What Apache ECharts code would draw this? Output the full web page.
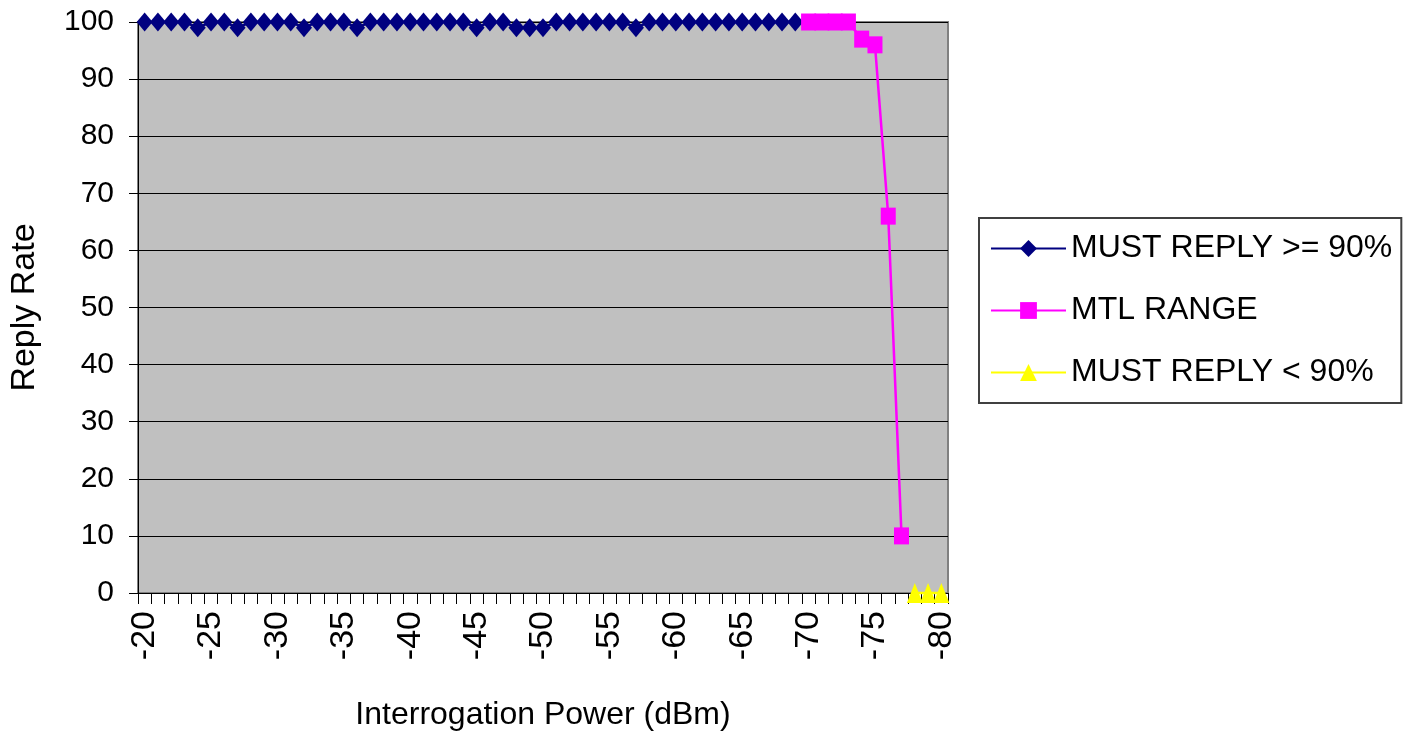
<!DOCTYPE html>
<html>
<head>
<meta charset="utf-8">
<script src="https://cdn.jsdelivr.net/npm/echarts@6/dist/echarts.min.js"></script>
<style>
  html, body { margin: 0; padding: 0; background: #ffffff; }
  #chart { width: 1403px; height: 736px; }
</style>
</head>
<body>
<div id="chart"></div>
<script>
// Interrogation power steps, from -20 dBm down to -80 dBm
const powerLevels = [
  '-20','-21','-22','-23','-24','-25','-26','-27','-28','-29',
  '-30','-31','-32','-33','-34','-35','-36','-37','-38','-39',
  '-40','-41','-42','-43','-44','-45','-46','-47','-48','-49',
  '-50','-51','-52','-53','-54','-55','-56','-57','-58','-59',
  '-60','-61','-62','-63','-64','-65','-66','-67','-68','-69',
  '-70','-71','-72','-73','-74','-75','-76','-77','-78','-79',
  '-80'
];

// Reply rate (%) where the transponder must reply at least 90 %
const mustReplyHigh = [
  100,100,100,100, 99,100,100, 99,100,100,
  100,100, 99,100,100,100, 99,100,100,100,
  100,100,100,100,100, 99,100,100, 99, 99,
   99,100,100,100,100,100,100, 99,100,100,
  100,100,100,100,100,100,100,100,100,100,
  null,null,null,null,null,null,null,null,null,null,
  null
];

// Reply rate (%) across the minimum triggering level range
const mtlRange = [
  null,null,null,null,null,null,null,null,null,null,
  null,null,null,null,null,null,null,null,null,null,
  null,null,null,null,null,null,null,null,null,null,
  null,null,null,null,null,null,null,null,null,null,
  null,null,null,null,null,null,null,null,null,null,
  100,100,100,100, 97, 96, 66, 10,null,null,
  null
];

// Reply rate (%) where replies below 90 % are allowed
const mustReplyLow = [
  null,null,null,null,null,null,null,null,null,null,
  null,null,null,null,null,null,null,null,null,null,
  null,null,null,null,null,null,null,null,null,null,
  null,null,null,null,null,null,null,null,null,null,
  null,null,null,null,null,null,null,null,null,null,
  null,null,null,null,null,null,null,null,  0,  0,
    0
];

const yTicks = { min: 0, max: 100, interval: 10 };

const FONT = '"Liberation Sans", Arial, sans-serif';

const chart = echarts.init(document.getElementById('chart'), null, { renderer: 'canvas' });

chart.setOption({
  animation: false,
  backgroundColor: '#ffffff',
  textStyle: { fontFamily: FONT, color: '#000' },
  grid: {
    left: 137, right: 455, top: 22, bottom: 142,
    show: true,
    backgroundColor: '#c0c0c0',
    borderColor: '#808080',
    borderWidth: 2
  },
  legend: {
    orient: 'vertical',
    left: 979, top: 218,
    padding: [13, 9, 13, 11],
    backgroundColor: '#ffffff',
    borderColor: '#404040',
    borderWidth: 2,
    borderRadius: 0,
    itemWidth: 75,
    itemHeight: 21,
    itemGap: 27,
    textStyle: { fontFamily: FONT, fontSize: 32, color: '#000', lineHeight: 35 },
    data: ['MUST REPLY >= 90%', 'MTL RANGE', 'MUST REPLY < 90%']
  },
  xAxis: {
    type: 'category',
    data: powerLevels,
    boundaryGap: true,
    name: 'Interrogation Power (dBm)',
    nameLocation: 'middle',
    nameGap: 106,
    nameTextStyle: { fontFamily: FONT, fontSize: 32, color: '#000' },
    axisLine: { show: true, lineStyle: { color: '#000', width: 1 } },
    axisTick: { show: true, interval: 0, length: 11, lineStyle: { color: '#000' } },
    axisLabel: {
      interval: 4,
      rotate: 90,
      margin: 18,
      fontFamily: FONT,
      fontSize: 34,
      color: '#000'
    },
    splitLine: { show: false }
  },
  yAxis: {
    type: 'value',
    min: yTicks.min,
    max: yTicks.max,
    interval: yTicks.interval,
    name: 'Reply Rate',
    nameLocation: 'middle',
    nameRotate: 90,
    nameGap: 96,
    nameTextStyle: { fontFamily: FONT, fontSize: 34, color: '#000' },
    axisLine: { show: true, lineStyle: { color: '#000', width: 1 } },
    axisTick: { show: true, length: 9, lineStyle: { color: '#000' } },
    axisLabel: { margin: 24, fontFamily: FONT, fontSize: 30, color: '#000' },
    splitLine: { show: true, lineStyle: { color: '#000', width: 1 } }
  },
  series: [
    {
      name: 'MUST REPLY >= 90%',
      type: 'line',
      data: mustReplyHigh,
      clip: false,
      showAllSymbol: true,
      symbol: 'diamond',
      symbolSize: [16, 19],
      itemStyle: { color: '#000080' },
      lineStyle: { color: '#000080', width: 2.5 },
      z: 3
    },
    {
      name: 'MTL RANGE',
      type: 'line',
      data: mtlRange,
      clip: false,
      showAllSymbol: true,
      symbol: 'rect',
      symbolSize: [15, 17],
      itemStyle: { color: '#ff00ff' },
      lineStyle: { color: '#ff00ff', width: 2.5 },
      z: 4
    },
    {
      name: 'MUST REPLY < 90%',
      type: 'line',
      data: mustReplyLow,
      clip: false,
      showAllSymbol: true,
      symbol: 'triangle',
      symbolSize: [16, 20],
      itemStyle: { color: '#ffff00' },
      lineStyle: { color: '#ffff00', width: 2.5 },
      z: 5
    }
  ]
});
</script>
</body>
</html>
